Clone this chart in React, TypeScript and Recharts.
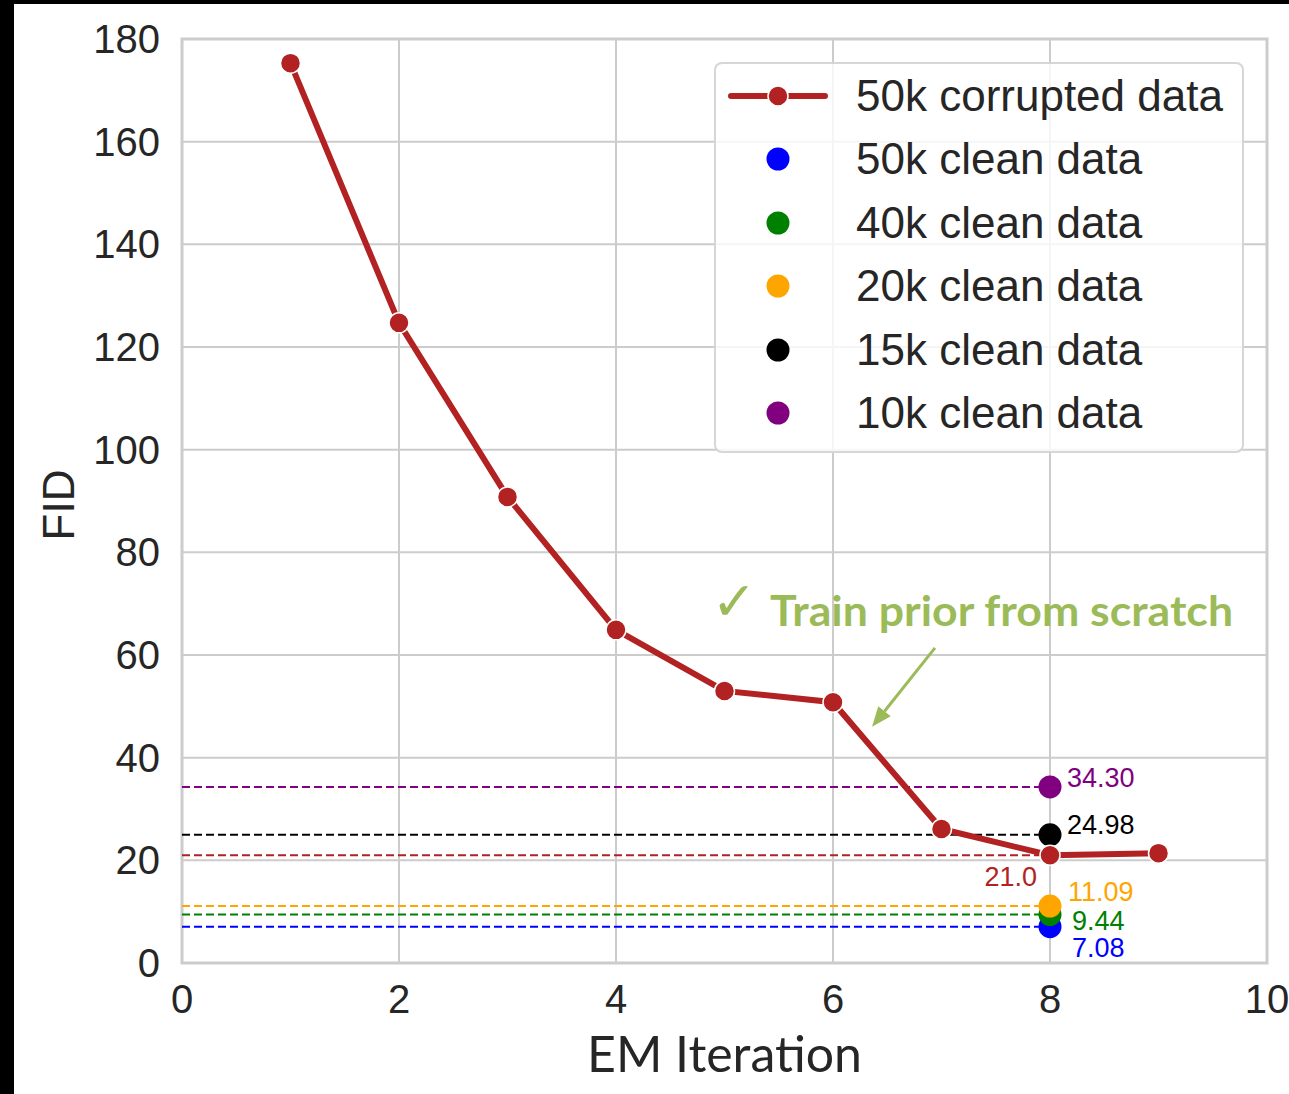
import React from 'react'
import {
  ComposedChart, Line, Scatter, XAxis, YAxis, CartesianGrid, ReferenceArea,
  ReferenceLine, ReferenceDot,
} from 'recharts'

// EM iterations trained on 50k corrupted images
const iterations = [1, 2, 3, 4, 5, 6, 7, 8, 9]
const corruptedFid = [175.3, 124.7, 90.8, 64.9, 53.0, 50.8, 26.1, 21.0, 21.4]

// baselines trained on clean subsets, all shown at iteration 8
const cleanNames = ['50k clean data', '40k clean data', '20k clean data', '15k clean data', '10k clean data']
const cleanFid = [7.08, 9.44, 11.09, 24.98, 34.3]
const cleanIteration = 8
const corruptedName = '50k corrupted data'

const xTicks = [0, 2, 4, 6, 8, 10]
const yTicks = [0, 20, 40, 60, 80, 100, 120, 140, 160, 180]

// styling
const cleanColors = ['#0000ff', '#008000', '#ffa500', '#000000', '#800080']
const cleanLabelShift = [
  { dx: 22, dy: 21 },
  { dx: 22, dy: 6 },
  { dx: 18, dy: -14 },
  { dx: 17, dy: -10 },
  { dx: 17, dy: -9 },
]
const RED = '#b22222'
const GREEN = '#9bbb59'
const INK = '#262626'
const GRID = '#cccccc'
const SANS = '"Liberation Sans", Arial, sans-serif'

// annotation placement (data coordinates)
const note = { checkX: 4.88, textX: 5.42, textY: 65.6, arrowFrom: { x: 6.94, y: 61.4 }, arrowTo: { x: 6.36, y: 46.0 } }

const corruptedRows = iterations.map((x, i) => ({ x, y: corruptedFid[i] }))
const finalFid = corruptedFid[iterations.indexOf(cleanIteration)]

function XTick({ x, y, payload }: any) {
  return (
    <text x={x} y={y + 36} textAnchor="middle" dominantBaseline="central" fontSize={40} fill={INK} fontFamily={SANS}>
      {payload.value}
    </text>
  )
}

function YTick({ x, y, payload }: any) {
  return (
    <text x={x - 22} y={y} textAnchor="end" dominantBaseline="central" fontSize={40} fill={INK} fontFamily={SANS}>
      {payload.value}
    </text>
  )
}

function cleanShape(i: number) {
  return (props: any) => {
    const { cx, cy } = props
    const s = cleanLabelShift[i]
    return (
      <g>
        <circle cx={cx} cy={cy} r={11.5} fill={cleanColors[i]} />
        <text x={cx + s.dx} y={cy + s.dy} dominantBaseline="central" fontSize={27} fill={cleanColors[i]} fontFamily={SANS}>
          {cleanFid[i].toFixed(2)}
        </text>
      </g>
    )
  }
}

function Arrow({ x1, y1, x2, y2 }: any) {
  const ang = Math.atan2(y2 - y1, x2 - x1)
  const len = 20
  const w = 8
  const bx = x2 - len * Math.cos(ang)
  const by = y2 - len * Math.sin(ang)
  const px = -Math.sin(ang) * w
  const py = Math.cos(ang) * w
  return (
    <g>
      <line x1={x1} y1={y1} x2={bx} y2={by} stroke={GREEN} strokeWidth={3} />
      <polygon points={`${x2},${y2} ${bx + px},${by + py} ${bx - px},${by - py}`} fill={GREEN} />
    </g>
  )
}

function LegendBox() {
  return (
    <div style={{
      position: 'absolute', left: 714, top: 62, zIndex: 1,
      width: 530, height: 391, boxSizing: 'border-box', background: 'rgba(255,255,255,0.8)',
      border: '2px solid rgba(204,204,204,0.8)', borderRadius: 8,
      fontFamily: SANS, color: INK, fontSize: 44,
    }}>
      {[corruptedName, ...cleanNames].map((name, i) => (
        <div key={name} style={{ position: 'absolute', left: 0, top: 32 + i * 63.4 - 32, height: 64, display: 'flex', alignItems: 'center' }}>
          <svg width={140} height={64} style={{ display: 'block' }}>
            {i === 0 ? (
              <g>
                <line x1={15} y1={32} x2={109} y2={32} stroke={RED} strokeWidth={6} strokeLinecap="round" />
                <circle cx={62} cy={32} r={10} fill={RED} stroke="#fff" strokeWidth={1.5} />
              </g>
            ) : (
              <circle cx={62} cy={32} r={11.5} fill={cleanColors[i - 1]} />
            )}
          </svg>
          <span style={{ whiteSpace: 'nowrap', lineHeight: '64px' }}>{name}</span>
        </div>
      ))}
    </div>
  )
}

export default function App() {
  return (
    <div style={{ position: 'absolute', left: 0, top: 0, width: 1289, height: 1094, background: '#fff', overflow: 'hidden' }}>
      <div style={{ position: 'absolute', left: 0, top: 0, width: 1289, height: 4, background: '#000', zIndex: 2 }} />
      <div style={{ position: 'absolute', left: 0, top: 0, width: 14, height: 1094, background: '#000', zIndex: 2 }} />
      <ComposedChart width={1289} height={1094} margin={{ top: 39, right: 22, bottom: 0, left: 0 }}>
        <CartesianGrid stroke={GRID} strokeWidth={2} />
        <ReferenceArea x1={0} x2={10} y1={0} y2={180} fill="none" stroke={GRID} strokeWidth={3} />
        <XAxis
          type="number" dataKey="x" domain={[0, 10]} ticks={xTicks} height={131}
          axisLine={false} tickLine={false} tickSize={0} tickMargin={0} tick={<XTick />} allowDataOverflow
          label={{
            content: ({ viewBox }: any) => (
              <text x={viewBox.x + viewBox.width / 2} y={viewBox.y + 90} textAnchor="middle" dominantBaseline="central"
                fontSize={50} fill={INK} fontFamily="Lato, sans-serif">EM Iteration</text>
            ),
          }}
        />
        <YAxis
          type="number" dataKey="y" domain={[0, 180]} ticks={yTicks} width={182}
          axisLine={false} tickLine={false} tickSize={0} tickMargin={0} tick={<YTick />} allowDataOverflow
          label={{
            content: ({ viewBox }: any) => (
              <text x={58} y={viewBox.y + viewBox.height / 2 + 4} textAnchor="middle" dominantBaseline="central"
                fontSize={44} fill={INK} fontFamily={SANS} transform={`rotate(-90 58 ${viewBox.y + viewBox.height / 2 + 4})`}>FID</text>
            ),
          }}
        />
        {cleanFid.map((v, i) => (
          <Line key={'d' + i} data={[{ x: 0, y: v }, { x: cleanIteration, y: v }]} dataKey="y" stroke={cleanColors[i]}
            strokeWidth={2} strokeDasharray="8 4" dot={false} activeDot={false} isAnimationActive={false} legendType="none" />
        ))}
        <Line data={[{ x: 0, y: finalFid }, { x: cleanIteration, y: finalFid }]} dataKey="y" stroke={RED}
          strokeWidth={2} strokeDasharray="8 4" dot={false} activeDot={false} isAnimationActive={false} legendType="none" />
        {cleanFid.map((v, i) => (
          <Scatter key={'s' + i} name={cleanNames[i]} data={[{ x: cleanIteration, y: v }]} dataKey="y"
            fill={cleanColors[i]} shape={cleanShape(i)} isAnimationActive={false} />
        ))}
        <Line name={corruptedName} data={corruptedRows} dataKey="y" type="linear" stroke={RED} strokeWidth={6}
          dot={{ r: 10, fill: RED, stroke: '#fff', strokeWidth: 1.5 }} activeDot={false} isAnimationActive={false} />
        <ReferenceDot x={cleanIteration} y={finalFid} r={0} shape={(p: any) => (
          <text x={p.cx - 13} y={p.cy + 22} textAnchor="end" dominantBaseline="central" fontSize={27} fill={RED} fontFamily={SANS}>
            {finalFid.toFixed(1)}
          </text>
        )} />
        <ReferenceDot x={note.checkX} y={note.textY} r={0} shape={(p: any) => (
          <text x={p.cx} y={p.cy - 6} fontSize={54} fill={GREEN} fontFamily="DejaVu Sans, sans-serif">✓</text>
        )} />
        <ReferenceDot x={note.textX} y={note.textY} r={0} shape={(p: any) => (
          <text x={p.cx} y={p.cy} fontSize={42} fontWeight={700} fill={GREEN} fontFamily="Lato, sans-serif"
            textLength={463} lengthAdjust="spacingAndGlyphs">Train prior from scratch</text>
        )} />
        <ReferenceLine segment={[note.arrowFrom, note.arrowTo]} shape={<Arrow />} />
      </ComposedChart>
      <LegendBox />
    </div>
  )
}
